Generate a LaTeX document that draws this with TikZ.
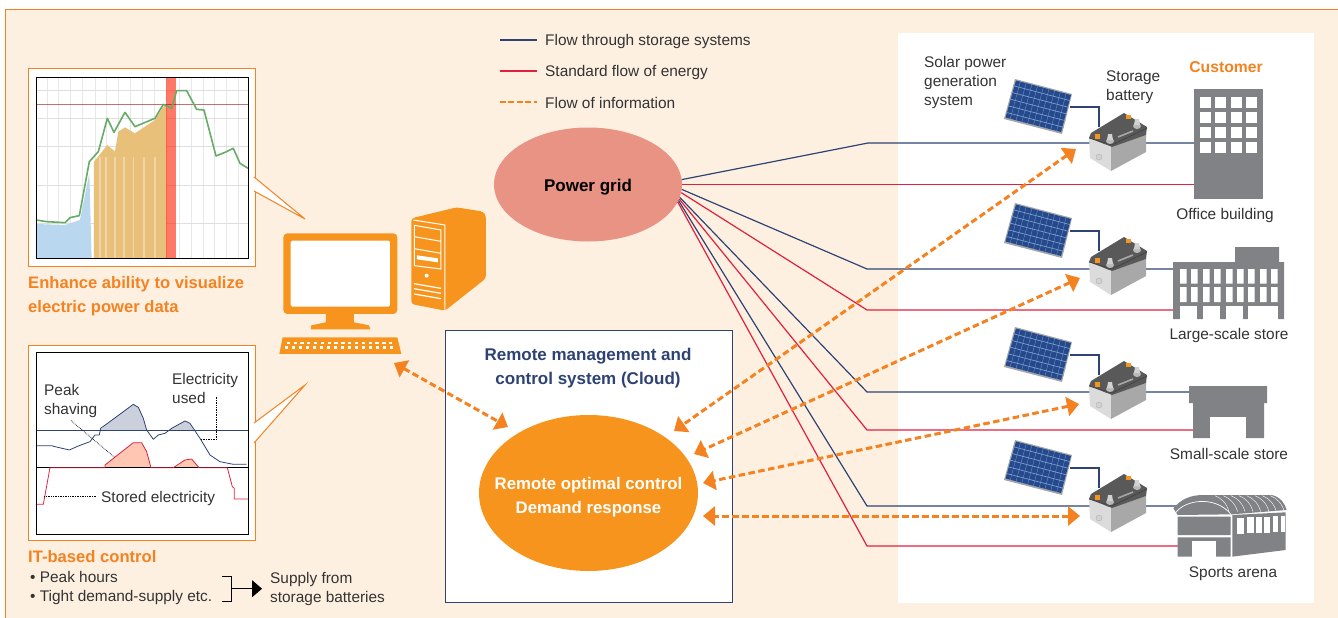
\documentclass[tikz,border=0pt]{standalone}
\usepackage{fontspec}
\setmainfont{Liberation Sans}
\usetikzlibrary{calc,arrows.meta,shapes.geometric}
\definecolor{peach}{HTML}{FEF0E1}
\definecolor{orangeline}{HTML}{F58220}
\definecolor{orangefill}{HTML}{F7941D}
\definecolor{navyline}{HTML}{2E4374}
\definecolor{redline}{HTML}{E0203F}
\definecolor{gridfill}{HTML}{E99385}
\definecolor{bldg}{HTML}{808285}
\definecolor{txt}{HTML}{333333}
\definecolor{cellblue}{HTML}{24498C}
\definecolor{cellline}{HTML}{7F9CCB}
\definecolor{barblue}{HTML}{B9D8F0}
\definecolor{barorange}{HTML}{E8C07A}

\begin{document}
\begin{tikzpicture}
  [x=1pt,y=-1pt,
  zoomed/.style 2 args={shift={(#1,#2)},x=.3333pt,y=-.3333pt},
  flowblue/.style={navyline,line width=1.2pt},
  flowred/.style={redline,line width=1.2pt},
  info/.style={orangeline,line width=3pt,dash pattern=on 6.5pt off 3.5pt,
    {Triangle[length=12pt,width=19pt]}-{Triangle[length=12pt,width=19pt]}},
  lbl/.style={font=\fontsize{15.4}{19}\selectfont,text=txt,align=left,anchor=west,inner sep=0pt},
  lblc/.style={font=\fontsize{15.4}{19}\selectfont,text=txt,align=center,inner sep=0pt},
  head/.style={font=\fontsize{16.6}{24}\selectfont\bfseries,text=orangeline,align=left,anchor=west,inner sep=0pt},
  tip/.style={black,densely dotted,line width=.7pt},
  callout/.style={draw=orangeline,fill=white,line width=1pt},
  solar/.pic={
    \path (-25,-28) coordinate (pa) (32,-13) coordinate (pb)
    (22,27) coordinate (pc) (-36,12) coordinate (pd);
    \fill[gray!70] (pa)--(pb)--(pc)--(pd)--cycle;
    \fill[cellblue] ($(pa)+(1,1.5)$)--($(pb)+(-1,1)$)--($(pc)+(-1,-2)$)--($(pd)+(1.5,-1.5)$)--cycle;
    \foreach \t in {.167,.333,.5,.667,.833}
    \draw[cellline,line width=.7pt] ($(pa)!\t!(pd)$)--($(pb)!\t!(pc)$);
    \foreach \t in {.1,.2,...,.95}
    \draw[cellline,line width=.3pt] ($(pa)!\t!(pb)$)--($(pd)!\t!(pc)$);
  },
  battery/.pic={
    \fill[gray!28] (-29,-3)--(-7,7)--(-7,31)--(-28,18)--cycle;
    \fill[gray!68] (-7,7)--(28,-5)--(28,12)--(-7,31)--cycle;
    \fill[black!65] (-27,-7)--(6,-27)--(29,-13)--(28,-5)--(-6,7)--(-29,-2)--cycle;
    \draw[black!75,line width=.6pt] (-29,-2)--(-6,5)--(29,-12);
    \draw[gray!70,line width=1.6pt] (0,-3)--(15,-9);
    \fill[orangefill] (-23,-6) rectangle (-18,-1);
    \fill[orangefill] (8,-25) rectangle (13,-21);
    \fill[gray!55] (-8,1) ellipse (4 and 3);
    \fill[gray!35] (-11,0)--(-5,0)--(-6,-6)--(-10,-6)--cycle;
    \fill[gray!55] (19,-14) ellipse (4 and 3);
    \fill[gray!35] (16,-15)--(22,-15)--(21,-21)--(17,-21)--cycle;
    \draw[gray!60,fill=gray!35,line width=.4pt] (-19,17) circle (3);
  }]
  \useasboundingbox (0,0) rectangle (1338,618);
  \fill[peach] (5,9) rectangle (1338,618);
  \draw[orangeline,line width=1pt] (5.5,618)--(5.5,9.5)--(1338,9.5);
  \fill[white] (898,33) rectangle (1314,603);
  \path
  (500,40) coordinate (legA) (537,40) coordinate (legB)
  (500,71) coordinate (legC) (537,71) coordinate (legD)
  (500,102) coordinate (legE) (537,102) coordinate (legF)
  (868,143) coordinate (kb1) (1195,143) coordinate (eb1)
  (1195,184.5) coordinate (er1)
  (867,269) coordinate (kb2) (1175,269) coordinate (eb2)
  (867,310) coordinate (kr2) (1175,310) coordinate (er2)
  (867,392) coordinate (kb3) (1190,392) coordinate (eb3)
  (867,430) coordinate (kr3) (1194,430) coordinate (er3)
  (867,506) coordinate (kb4) (1178,506) coordinate (eb4)
  (867,546) coordinate (kr4) (1179,546) coordinate (er4)
  (1076,149) coordinate (h1) (674,431) coordinate (c1)
  (1080,278) coordinate (h2) (694,454) coordinate (c2)
  (1079,404) coordinate (h3) (703,483) coordinate (c3)
  (1080,516) coordinate (h4) (703,516) coordinate (c4)
  (394,363) coordinate (pcArrow) (508,427) coordinate (c5);
  % legend
  \draw[flowblue] (legA)--(legB);
  \draw[flowred] (legC)--(legD);
  \draw[orangeline,line width=2.4pt,dash pattern=on 6pt off 2.4pt] (legE)--(legF);
  \node[lbl] (legBlue) at (545,42) {Flow through storage systems};
  \node[lbl] (legRed) at (545,73) {Standard flow of energy};
  \node[lbl] (legInfo) at (545,103) {Flow of information};
  % cloud box
  \draw[navyline,fill=white,line width=1pt] (445,330) rectangle (732,602);
  % power lines
  \node[ellipse,fill=gridfill,minimum width=188pt,minimum height=114pt,inner sep=0pt]
  (grid) at (588,184.5) {};
  \draw[flowblue] (grid.3)--(kb1)--(eb1);
  \draw[flowred] (grid.0)--(er1);
  \foreach \i/\g in {2/-3,3/-8,4/-10}
  \draw[flowblue] (grid.\g)--(kb\i)--(eb\i);
  \foreach \i/\g in {2/-5,3/-9,4/-11}
  \draw[flowred] (grid.\g)--(kr\i)--(er\i);
  \node[font=\fontsize{17}{18}\selectfont\bfseries,text=black] (gridText) at (588,187) {Power grid};
  % solar panels and batteries
  \foreach \i/\y in {1/0,2/124,3/248,4/361}{
    \path (1070,107+\y) coordinate (panel\i) (1099,127+\y) coordinate (batt\i);
    \draw[flowblue] (panel\i)-|(batt\i);
    \path (1040,107+\y) pic {solar} (1118,140+\y) pic {battery};
  }
  % office building
  \fill[bldg] (1194,89) rectangle (1263,199);
  \foreach \x in {0,1,2,3}
  \foreach \y in {0,1,2,3}
  \fill[white] (1200+\x*15.3,96.5+\y*15) rectangle +(11,11);
  % large store
  \fill[bldg] (1173,262) rectangle (1284,319) (1235,247) rectangle (1279,263);
  \foreach \x in {1180,1191,1203,1214,1226,1237,1248,1260,1271}
  \fill[white] (\x,269) rectangle +(6.5,14.5) (\x,287) rectangle +(6.5,15);
  \foreach \a/\b in {1180/1197,1203/1220,1226/1243,1248/1278}
  \fill[white] (\a,305.5) rectangle (\b,319.5);
  % small store
  \fill[bldg] (1189,386) rectangle (1267,403) (1193,402) rectangle (1264,438);
  \fill[white] (1210,417) rectangle (1246,438.5);
  % sports arena
  \begin{scope}[zoomed={1165}{485}]
    \fill[bldg] (25,70) .. controls (50,40) and (80,30) .. (115,30) -- (320,30)
    .. controls (345,35) and (360,55) .. (365,75) -- (200,88) -- (38,90) -- cycle;
    \fill[bldg] (38,95) rectangle (197,150) (38,157) rectangle (197,215);
    \fill[white] (80,167) rectangle (153,216);
    \fill[bldg] (202,90)--(362,82)--(362,195)--(202,215)--cycle;
    \draw[white,line width=.7pt] (33,82) .. controls (60,45) and (150,30) .. (198,88);
    \foreach \x/\w in {150/20,175/21,198/20,222/20,245/20,270/20,292/20,316/20}
    \draw[white,line width=.4pt] (\x,32) .. controls (\x+20,40) and (\x+35,55) .. (\x+\w+22,80);
    \foreach \x/\y/\w in {215/98/23,247/97/19,274/96/17,298/95/17,324/94/15,348/93/12}
    \fill[white] (\x,\y) rectangle +(\w,48);
  \end{scope}
  % computer
  \begin{scope}[zoomed={270}{200}]
    \fill[orangefill,rounded corners=4pt] (40,100) rectangle (382,342);
    \fill[white,rounded corners=1.5pt] (62,122) rectangle (360,320);
    \fill[orangefill] (168,340)--(252,340)--(252,367)--(297,376)--(301,388)--(122,388)--(124,376)--(168,367)--cycle;
    \fill[orangefill] (38,412)--(382,412)--(394,462)--(28,462)--cycle;
    \foreach \k in {0,...,15}{
      \fill[white] (50+\k*20.5,425) rectangle +(10,7);
      \fill[white] (44+\k*21,439) rectangle +(11,7);
    }
    \fill[orangefill,rounded corners=3pt] (424,55)--(560,22)--(640,35)--(648,48)--(648,235)--(525,332)--(424,312)--cycle;
    \draw[white,line width=1pt] (430,60)--(525,75)--(525,328);
    \draw[white,line width=1pt] (433,76)--(513,90)--(513,207)--(433,197)--cycle
    (433,110)--(513,124) (433,146)--(513,160);
    \fill[white] (441,166)--(504,175)--(504,187)--(441,178)--cycle;
    \fill[white] (470,227) circle (6);
    \draw[white,line width=1.2pt] (432,251)--(513,265) (432,266)--(513,280) (432,282)--(513,296);
  \end{scope}
  % visualisation panel
  \draw[draw=orangeline,fill=white,line width=1pt] (28.5,68.5) rectangle (255,266);
  \draw[callout] (254,177)--(305,219)--(254,191);
  \begin{scope}[zoomed={0}{50}]
    \foreach \x in {142,176,212,248,286,320,356,392,428,464,500,540,575,610,645,680,715}
    \draw[gray!18,line width=1pt] (\x,82)--(\x,625);
    \foreach \y in {120,205,290,405,520}
    \draw[gray!25,line width=.7pt] (108,\y)--(744,\y);
    \fill[barblue] (108,625)--(108,522)--(195,525)--(240,510)--(268,370)--(275,625)--cycle;
    \fill[barorange] (282,625)--(282,335)--(322,285)--(345,305)--(355,245)--(375,232)--(405,250)--(465,210)--(490,170)--(500,165)--(500,625)--cycle;
    \foreach \x in {300,318,345,372,400,432,465}
    \draw[white,opacity=.35,line width=1.5pt] (\x,320)--(\x,625);
    \fill[red!75!orange,opacity=.6] (497,82) rectangle (527,625);
    \draw[red!55!black,opacity=.55,line width=1.6pt] (108,163)--(744,163);
    \draw[green!45!black!60,line width=1.6pt,line join=round]
    (108,510)--(140,515)--(195,518)--(210,503)--(238,497)--(268,335)--(295,305)--(322,205)
    --(342,247)--(375,187)--(405,230)--(465,205)--(490,163)--(515,175)--(530,122)--(560,122)
    --(590,178)--(612,180)--(648,318)--(680,305)--(700,295)--(720,340)--(744,355);
    \draw[black,line width=.8pt] (108,82) rectangle (744,625);
  \end{scope}
  \node[head] (visualText) at (28,296) {Enhance ability to visualize\\electric power data};
  % control panel
  \draw[draw=orangeline,fill=white,line width=1pt] (28.5,345.5) rectangle (255,540.5);
  \draw[callout] (254,423)--(305,385)--(254,443);
  \begin{scope}[zoomed={0}{330}]
    \fill[navyline!25] (302,300)--(320,282)--(400,223)--(415,232)--(430,265)--(440,300)--cycle
    (510,300)--(555,273)--(570,280)--(585,300)--cycle;
    \fill[red!50!orange!30] (315,413)--(315,405)--(400,338)--(425,338)--(440,365)--(453,413)--cycle
    (520,413)--(555,390)--(575,387)--(597,413)--cycle;
    \draw[navyline,line width=.8pt] (108,300)--(744,300);
    \draw[black,line width=.8pt] (108,413)--(744,413);
    \draw[navyline,line width=.8pt,line join=round]
    (108,347)--(155,347)--(165,350)--(208,360)--(235,348)--(270,335)--(285,315)--(298,315)
    --(302,295)--(320,282)--(400,223)--(415,232)--(430,265)--(440,300)--(460,328)--(475,315)
    --(495,310)--(515,295)--(555,273)--(570,280)--(600,325)--(630,375)--(660,395)--(700,403)--(740,403);
    \draw[redline,line width=.8pt,line join=round]
    (108,523)--(130,523)--(150,413)--(315,413)--(315,405)--(400,338)--(425,338)--(440,365)
    --(453,413)--(520,413)--(555,390)--(575,387)--(597,413)--(682,413)--(697,470)--(703,475)
    --(703,507)--(744,507);
    \draw[tip] (213,272)--(345,383);
    \draw[tip] (650,200)--(650,328)--(600,328);
    \draw[tip] (133,500)--(290,500);
    \draw[black,line width=.8pt] (108,68) rectangle (744,612);
  \end{scope}
  \node[lbl] (peakText) at (44,401) {Peak\\shaving};
  \node[lbl] (usedText) at (172,388) {Electricity\\used};
  \node[lbl] (storedText) at (101,499) {Stored electricity};
  \node[head] (itText) at (28,557) {IT-based control};
  \node[lbl] (hoursText) at (30,577) {• Peak hours};
  \node[lbl] (tightText) at (30,598) {• Tight demand-supply etc.};
  \node[lbl] (supplyText) at (270,589.5) {Supply from\\storage batteries};
  \path (221.5,576) coordinate (brA) (221.5,601.5) coordinate (brB)
  (231.5,576) coordinate (brC) (231.5,601.5) coordinate (brD) (231.5,588.7) coordinate (brM);
  \draw[black,line width=.8pt] (brA)--(brC)--(brD)--(brB);
  \draw[black,line width=.8pt,shorten >=8pt,-{Triangle[length=10pt,width=17pt]}] (brM)--(brM-|supplyText.west);
  % cloud contents
  \node[font=\fontsize{17}{24}\selectfont\bfseries,text=navyline,align=center] (cloudText) at (588,368)
  {Remote management and\\control system (Cloud)};
  \node[ellipse,fill=orangefill,minimum width=219pt,minimum height=156pt,inner sep=0pt]
  (ctrl) at (588.5,493) {};
  \node[font=\fontsize{16.8}{24}\selectfont\bfseries,text=white,align=center] (ctrlText) at (588.5,497)
  {Remote optimal control\\Demand response};
  % information flows
  \foreach \i in {1,2,3,4}
  \draw[info] (h\i)--(c\i);
  \draw[info] (pcArrow)--(c5);
  % customer labels
  \node[lbl] (solarText) at (924,83) {Solar power\\generation\\system};
  \node[lbl] (battText) at (1106,87) {Storage\\battery};
  \node[head,font=\fontsize{15.7}{24}\selectfont\bfseries,anchor=center] (custText) at (1226,67) {Customer};
  \node[lblc] (officeText) at (1225,216) {Office building};
  \node[lblc] (largeText) at (1229,336) {Large-scale store};
  \node[lblc] (smallText) at (1229,454) {Small-scale store};
  \node[lblc] (arenaText) at (1233,574) {Sports arena};
\end{tikzpicture}
\end{document}
